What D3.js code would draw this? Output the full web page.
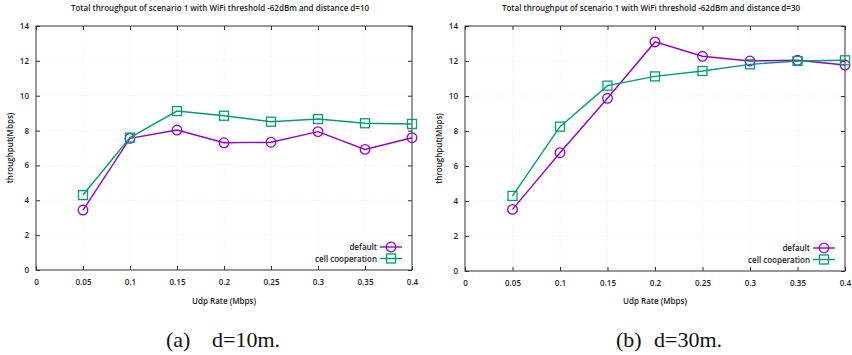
<!DOCTYPE html>
<html>
<head>
<meta charset="utf-8">
<script src="https://cdn.jsdelivr.net/npm/d3@7"></script>
<style>
  body { margin: 0; background: #fff; }
  svg { display: block; }
  .tick text { font-family: "Open Sans", sans-serif; font-size: 8px; font-weight: 600; fill: #222; }
</style>
</head>
<body>
<script>
// udp rates on the x axis
const rates = [0.05, 0.1, 0.15, 0.2, 0.25, 0.3, 0.35, 0.4];
const xTicks = [0, 0.05, 0.1, 0.15, 0.2, 0.25, 0.3, 0.35, 0.4];
const xTickLabels = ["0", "0.05", "0.1", "0.15", "0.2", "0.25", "0.3", "0.35", "0.4"];
const yTicks = [0, 2, 4, 6, 8, 10, 12, 14];

// d=10m
const default10 = [3.44, 7.55, 8.03, 7.30, 7.33, 7.94, 6.92, 7.59];
const coop10 = [4.30, 7.60, 9.12, 8.85, 8.51, 8.66, 8.42, 8.38];
// d=30m
const default30 = [3.52, 6.76, 9.87, 13.09, 12.27, 12.00, 12.04, 11.77];
const coop30 = [4.29, 8.25, 10.59, 11.12, 11.43, 11.81, 12.00, 12.04];

const seriesNames = ["default", "cell cooperation"];
const titles = [
  "Total throughput of scenario 1 with WiFi threshold -62dBm and distance d=10",
  "Total throughput of scenario 1 with WiFi threshold -62dBm and distance d=30"
];
const captionTags = ["(a)", "(b)"];
const captionTexts = ["d=10m.", "d=30m."];

const purple = "#9400d3", green = "#009e73";

const W = 852, H = 355;
const svg = d3.select("body").append("svg").attr("width", W).attr("height", H);

function panel(k, left, right, top, bottom, capX, defVals, coopVals) {
    let x = d3.scaleLinear().domain([0, 0.4]).range([left, right]);
    let y = d3.scaleLinear().domain([0, 14]).range([bottom, top]);
    let g = svg.append("g");

    // grid
    g.selectAll(".vgrid").data(xTicks.slice(1, -1)).enter().append("line")
        .attr("x1", d => x(d)).attr("x2", d => x(d))
        .attr("y1", top).attr("y2", bottom)
        .attr("stroke", "#ddd").attr("stroke-width", 0.6).attr("stroke-dasharray", "1,2");
    g.selectAll(".hgrid").data(yTicks.slice(1, -1)).enter().append("line")
        .attr("x1", left).attr("x2", right)
        .attr("y1", d => y(d)).attr("y2", d => y(d))
        .attr("stroke", "#ddd").attr("stroke-width", 0.6).attr("stroke-dasharray", "1,2");

    // axes, ticks pointing inward
    g.append("g").attr("transform", "translate(0," + bottom + ")")
        .call(d3.axisBottom(x).tickValues(xTicks).tickFormat((d, i) => xTickLabels[i]).tickSizeInner(-4).tickSizeOuter(0).tickPadding(9))
        .call(a => a.select(".domain").remove());
    g.append("g").attr("transform", "translate(" + left + ",0)")
        .call(d3.axisLeft(y).tickValues(yTicks).tickSizeInner(-4).tickSizeOuter(0).tickPadding(7))
        .call(a => a.select(".domain").remove());
    g.append("g").attr("transform", "translate(0," + top + ")")
        .call(d3.axisTop(x).tickValues(xTicks).tickFormat("").tickSizeInner(-4).tickSizeOuter(0))
        .call(a => a.select(".domain").remove());
    g.append("g").attr("transform", "translate(" + right + ",0)")
        .call(d3.axisRight(y).tickValues(yTicks).tickFormat("").tickSizeInner(-4).tickSizeOuter(0))
        .call(a => a.select(".domain").remove());
    g.selectAll(".tick line").attr("stroke", "#333");

    g.append("rect").attr("x", left).attr("y", top)
        .attr("width", right - left).attr("height", bottom - top)
        .attr("fill", "none").attr("stroke", "#333").attr("stroke-width", 1);

    // title and labels
    g.append("text").attr("x", (left + right) / 2 - 4).attr("y", 11)
        .attr("text-anchor", "middle").style("font-family", "Open Sans, sans-serif")
        .style("font-size", "8px").style("font-weight", 600).attr("fill", "#222").text(titles[k]);
    g.append("text").attr("x", (left + right) / 2).attr("y", 304)
        .attr("text-anchor", "middle").style("font-family", "Open Sans, sans-serif")
        .style("font-size", "8px").style("font-weight", 600).attr("fill", "#222").text("Udp Rate (Mbps)");
    g.append("text").attr("transform", "translate(" + (left - 23) + "," + ((top + bottom) / 2) + ") rotate(-90)")
        .attr("text-anchor", "middle").style("font-family", "Open Sans, sans-serif")
        .style("font-size", "8px").style("font-weight", 600).attr("fill", "#222").text("throughput(Mbps)");

    // caption under the panel
    g.append("text").attr("x", capX[0]).attr("y", 347)
        .style("font-family", "Liberation Serif, serif")
        .style("font-size", "22px").attr("fill", "#111").text(captionTags[k]);
    g.append("text").attr("x", capX[1]).attr("y", 347)
        .style("font-family", "Liberation Serif, serif")
        .style("font-size", "22px").attr("fill", "#111").text(captionTexts[k]);

    let line = d3.line().x((d, i) => x(rates[i])).y(d => y(d));
    let sets = [{vals: defVals, color: purple, shape: "circle"}, {vals: coopVals, color: green, shape: "square"}];
    sets.forEach(s => {
        g.append("path").datum(s.vals).attr("d", line)
            .attr("fill", "none").attr("stroke", s.color).attr("stroke-width", 1.4);
        drawMarks(g, s.vals.map((v, i) => [x(rates[i]), y(v)]), s);
    });

    // legend
    let lx = right - 32;
    sets.forEach((s, i) => {
        let ly = bottom - 23 + i * 11.5;
        g.append("text").attr("x", lx - 3).attr("y", ly + 3)
            .attr("text-anchor", "end").style("font-family", "Open Sans, sans-serif")
            .style("font-size", "8px").style("font-weight", 600).attr("fill", "#222").text(seriesNames[i]);
        g.append("line").attr("x1", lx).attr("x2", lx + 22).attr("y1", ly).attr("y2", ly)
            .attr("stroke", s.color).attr("stroke-width", 1.4);
        drawMarks(g, [[lx + 11, ly]], s);
    });
}

function drawMarks(g, pts, s) {
    if (s.shape === "circle") {
        g.selectAll(null).data(pts).enter().append("circle")
            .attr("cx", d => d[0]).attr("cy", d => d[1]).attr("r", 4.8)
            .attr("fill", "none").attr("stroke", s.color).attr("stroke-width", 1.3);
    } else {
        g.selectAll(null).data(pts).enter().append("rect")
            .attr("x", d => d[0] - 4.5).attr("y", d => d[1] - 4.5)
            .attr("width", 9).attr("height", 9)
            .attr("fill", "none").attr("stroke", s.color).attr("stroke-width", 1.3);
    }
}

panel(0, 36, 412, 26, 270, [166, 212], default10, coop10);
panel(1, 465, 845, 26, 271, [616, 654], default30, coop30);
</script>
</body>
</html>
